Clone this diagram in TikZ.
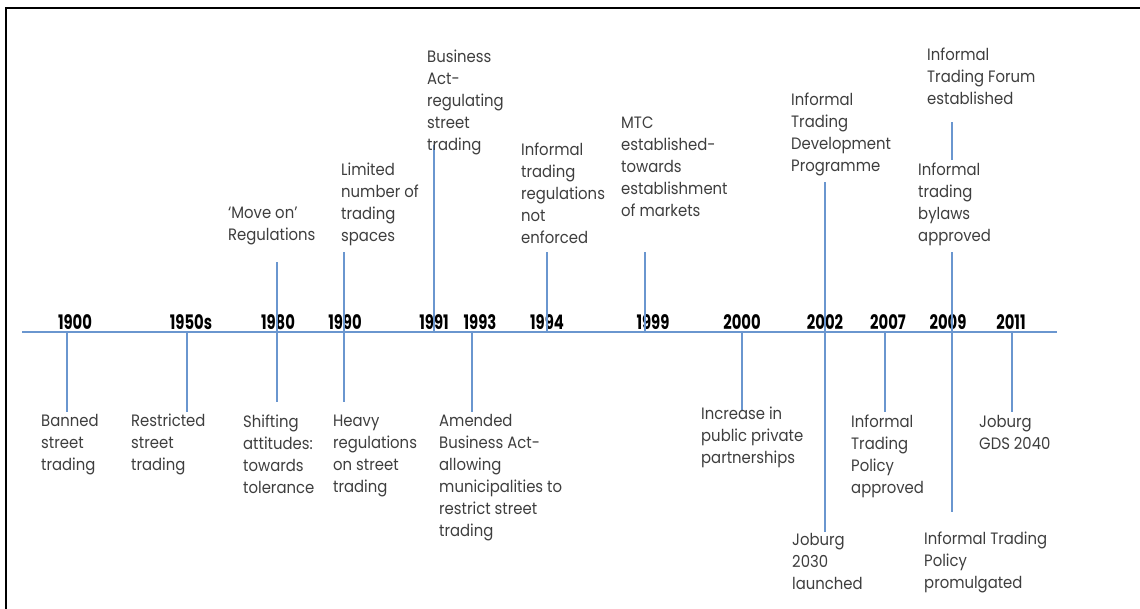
\documentclass[tikz,border=0pt]{standalone}
\usepackage{fontspec}
\setmainfont{Poppins}
\newfontfamily\yearfont[FakeStretch=0.74]{Poppins}
\newfontfamily\notefont[FakeStretch=0.9]{Poppins}

\definecolor{lineblue}{RGB}{106,150,207}
\definecolor{notegray}{RGB}{62,62,62}

\def\axisY{332}
\def\axisLeft{22}
\def\axisRight{1057}

\tikzset{
    tick/.style = {lineblue, line width = 1.3pt},
    yearlabel/.style = {anchor = base, inner sep = 0pt,
        font = \yearfont\bfseries\fontsize{20}{20}\selectfont},
    event/.style = {anchor = north west, inner sep = 0pt, align = left,
        text = notegray, font = \notefont\fontsize{16.5}{22}\selectfont},
}

\begin{document}
\begin{tikzpicture}[x = 1pt, y = -1pt]
            \useasboundingbox (0,0) rectangle (1140,608);
            \clip (0,0) rectangle (1140,608);
            %% frame, only top and left edge fall inside the page
            \draw [line width = 2.2pt]
            (6,8) rectangle (1170,640)
            ;
            %% time axis
            \coordinate (axisL) at (\axisLeft, \axisY);
            \coordinate (axisR) at (\axisRight, \axisY);
            \draw [tick] (axisL) -- (axisR);

            %% years
            \foreach \yr/\x in {1900/75, 1950s/191, 1980/278, 1990/345,
                1991/434, 1993/480, 1994/547, 1999/653, 2000/742,
                2002/825, 2007/888, 2009/948, 2011/1011} {
                \node [yearlabel] (y\yr) at (\x, 329) {\yr};
            }

            %% ticks: name/x/top/bottom
            \foreach \yr/\x/\ya/\yb in {1900/67/332/412, 1950s/187/332/412,
                1980/277/262/402, 1990/344/252/402, 1991/434/145/332,
                1993/472/332/412, 1994/547/252/332, 1999/645/252/332,
                2000/742/332/410, 2002/825/182/532, 2007/885/332/412,
                2009/952/252/512, 2011/1012/332/412, forum/952/122/160} {
                \coordinate (t\yr a) at (\x, \ya);
                \coordinate (t\yr b) at (\x, \yb);
                \draw [tick] (t\yr a) -- (t\yr b);
            }

            %% events above the axis
            \node [event] (moveon) at (228, 207) {‘Move on’\\Regulations};
            \node [event] (limited) at (341, 163) {Limited\\number of\\trading\\spaces};
            \node [event] (bizact) at (427, 50) {Business\\Act-\\regulating\\street\\trading};
            \node [event] (notenf) at (521, 143) {Informal\\trading\\regulations\\not\\enforced};
            \node [event] (mtc) at (621, 117) {MTC\\established-\\towards\\establishment\\of markets};
            \node [event] (itdp) at (791, 93) {Informal\\Trading\\Development\\Programme};
            \node [event] (forum) at (927, 48) {Informal\\Trading Forum\\established};
            \node [event] (bylaws) at (918, 163) {Informal\\trading\\bylaws\\approved};

            %% events below the axis
            \node [event] (banned) at (41, 414) {Banned\\street\\trading};
            \node [event] (restricted) at (131, 414) {Restricted\\street\\trading};
            \node [event] (shifting) at (243, 415) {Shifting\\attitudes:\\towards\\tolerance};
            \node [event] (heavy) at (333, 415) {Heavy\\regulations\\on street\\trading};
            \node [event] (amended) at (439, 414) {Amended\\Business Act-\\allowing\\municipalities to\\restrict street\\trading};
            \node [event] (ppp) at (701, 407) {Increase in\\public private\\partnerships};
            \node [event] (policy) at (851, 415) {Informal\\Trading\\Policy\\approved};
            \node [event] (gds) at (979, 415) {Joburg\\GDS 2040};
            \node [event] (jb2030) at (792, 533) {Joburg\\2030\\launched};
            \node [event] (promul) at (924, 532) {Informal Trading\\Policy\\promulgated};
        \end{tikzpicture}
\end{document}
